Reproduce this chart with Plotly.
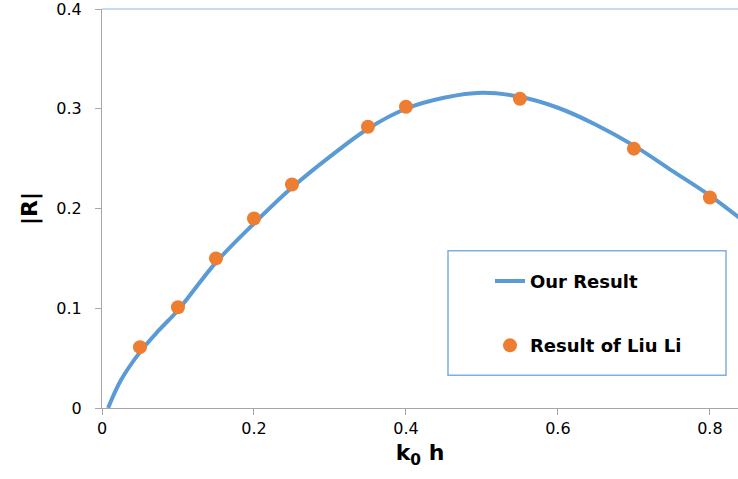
import plotly.graph_objects as go

# Computed reflection coefficient |R| versus k0*h (smooth curve)
k0h_curve = [0.008, 0.025, 0.05, 0.075, 0.1, 0.15, 0.2, 0.25, 0.3, 0.35,
             0.4, 0.45, 0.5, 0.55, 0.6, 0.65, 0.7, 0.75, 0.8, 0.84]
r_curve = [0.0, 0.028, 0.056, 0.078, 0.098, 0.146, 0.185, 0.221, 0.252, 0.28,
           0.3, 0.311, 0.316, 0.312, 0.301, 0.284, 0.263, 0.238, 0.213, 0.19]

# Reference values (Liu Li)
k0h_ref = [0.05, 0.1, 0.15, 0.2, 0.25, 0.35, 0.4, 0.55, 0.7, 0.8]
r_ref = [0.061, 0.101, 0.150, 0.190, 0.224, 0.282, 0.302, 0.310, 0.260, 0.211]

x_ticks = [0, 0.2, 0.4, 0.6, 0.8]
x_tick_text = ["0", "0.2", "0.4", "0.6", "0.8"]
y_ticks = [0, 0.1, 0.2, 0.3, 0.4]
y_tick_text = ["0", "0.1", "0.2", "0.3", "0.4"]

BLUE = "#5B9BD5"
ORANGE = "#ED7D31"
AXIS = "#A6A6A6"
FONT = "DejaVu Sans"

fig = go.Figure()
fig.add_trace(go.Scatter(
    x=k0h_curve, y=r_curve, mode="lines", name="Our Result",
    line=dict(color=BLUE, width=4, shape="spline", smoothing=1.0),
    legendgroup="a",
))
fig.add_trace(go.Scatter(
    x=k0h_ref, y=r_ref, mode="markers", name="Result of Liu Li",
    marker=dict(color=ORANGE, size=14, line=dict(width=0)),
    legendgroup="b",
))

# light top border of the plotting area
fig.add_shape(type="line", xref="paper", yref="paper", x0=0, x1=1, y0=1, y1=1,
              line=dict(color="#C5DBF0", width=2), layer="above")

# legend frame
fig.add_shape(type="rect", xref="paper", yref="paper",
              x0=(448 - 102) / 636, x1=(726 - 102) / 636,
              y0=(408 - 375) / 401, y1=(408 - 250) / 401,
              line=dict(color="#7FB0DD", width=1.5), fillcolor="white", layer="below")

fig.update_layout(
    width=738, height=479,
    margin=dict(l=102, r=0, t=7, b=71),
    paper_bgcolor="white", plot_bgcolor="white",
    font=dict(family=FONT, color="black"),
    showlegend=True,
    legend=dict(
        x=(490 - 102) / 636, y=(408 - 262) / 401,
        xanchor="left", yanchor="top",
        bgcolor="rgba(0,0,0,0)", borderwidth=0,
        font=dict(family=FONT, size=18, color="black", weight="bold"),
        traceorder="grouped", tracegroupgap=38,
    ),
    xaxis=dict(
        range=[0, 0.837], tickvals=x_ticks, ticktext=x_tick_text,
        showgrid=False, zeroline=False, showline=True, linecolor=AXIS, linewidth=1,
        ticks="outside", ticklen=6, tickcolor=AXIS,
        tickfont=dict(family=FONT, size=16, color="black"),
        title=dict(text="k<sub>0</sub> h", standoff=7,
                   font=dict(family=FONT, size=22, color="black", weight="bold")),
    ),
    yaxis=dict(
        range=[0, 0.4], tickvals=y_ticks, ticktext=y_tick_text,
        showgrid=False, zeroline=False, showline=True, linecolor=AXIS, linewidth=1,
        ticks="outside", ticklen=6, tickcolor=AXIS, ticklabelstandoff=10,
        ticklabeloverflow="allow",
        tickfont=dict(family=FONT, size=16, color="black"),
        title=dict(text="|R|", standoff=12,
                   font=dict(family=FONT, size=22, color="black", weight="bold")),
    ),
)

fig.write_html("out.html")
